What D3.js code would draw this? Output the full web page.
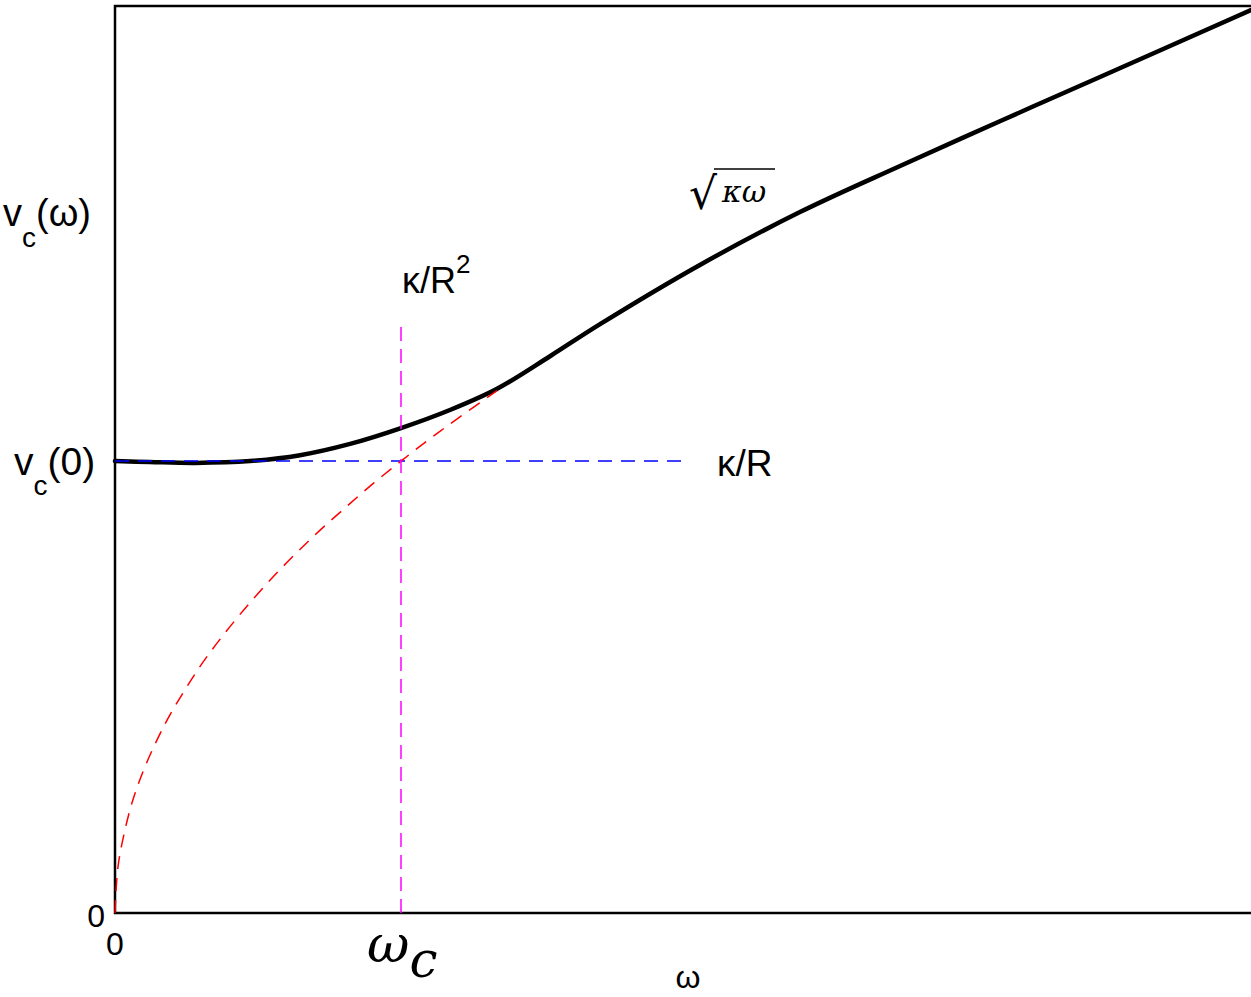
<!DOCTYPE html>
<html>
<head>
<meta charset="utf-8">
<script src="https://cdn.jsdelivr.net/npm/d3@7"></script>
<style>
  body { margin: 0; background: #fff; }
  text { font-family: "Liberation Sans", Arial, sans-serif; fill: #000; }
</style>
</head>
<body>
<script>
// omega in units of omega_c, v in units of v_c(0)

// black curve v_c(omega)
const omegaVals = [0, 0.122, 0.28, 0.472, 0.647, 0.822, 1.0, 1.171, 1.336, 1.521, 1.696, 2.045, 2.395, 2.745, 3.094, 3.444, 3.972];
const vcVals    = [1.0, 0.998, 0.996, 1.0, 1.013, 1.038, 1.073, 1.113, 1.160, 1.232, 1.303, 1.434, 1.551, 1.653, 1.752, 1.850, 1.998];

// red dashed asymptote sqrt(kappa*omega)
const asymOmega = [0, 0.01, 0.03, 0.06, 0.1, 0.15, 0.2, 0.3, 0.4, 0.5, 0.6, 0.7, 0.8, 0.9, 1.0, 1.1, 1.2, 1.336];
const asymV     = [0, 0.1, 0.17, 0.245, 0.316, 0.387, 0.447, 0.548, 0.632, 0.707, 0.775, 0.837, 0.894, 0.949, 1.0, 1.049, 1.095, 1.156];

// blue dashed kappa/R level and magenta omega_c marker
const lowLevel = 1.0;
const lowEnd = 2.0;
const omegaC = 1.0;
const markerTop = 1.30;

const width = 1251, height = 997;

const svg = d3.select('body').append('svg')
    .attr('width', width)
    .attr('height', height);

const x = d3.scaleLinear().domain([0, 4]).range([115, 1259]);
const y = d3.scaleLinear().domain([0, 2.007]).range([913, 6]);

// frame
svg.append('rect')
    .attr('x', x(0)).attr('y', y(2.007))
    .attr('width', 1300).attr('height', y(0) - y(2.007))
    .attr('fill', 'none')
    .attr('stroke', '#000')
    .attr('stroke-width', 2.5);

const line = d3.line()
    .x(d => x(d[0]))
    .y(d => y(d[1]))
    .curve(d3.curveCatmullRom);

// main curve
svg.append('path')
    .datum(d3.zip(omegaVals, vcVals))
    .attr('fill', 'none')
    .attr('stroke', '#000')
    .attr('stroke-width', 4.5)
    .attr('stroke-linecap', 'round')
    .attr('d', line);

// kappa/R level
svg.append('line')
    .attr('x1', x(0)).attr('x2', x(lowEnd))
    .attr('y1', y(lowLevel)).attr('y2', y(lowLevel))
    .attr('stroke', '#0000ff')
    .attr('stroke-width', 1.5)
    .attr('stroke-dasharray', '14,9');

// sqrt asymptote
svg.append('path')
    .datum(d3.zip(asymOmega, asymV))
    .attr('fill', 'none')
    .attr('stroke', '#ff0000')
    .attr('stroke-width', 1.5)
    .attr('stroke-dasharray', '13,9')
    .attr('d', line);

// omega_c marker
svg.append('line')
    .attr('x1', x(omegaC)).attr('x2', x(omegaC))
    .attr('y1', y(0)).attr('y2', y(markerTop))
    .attr('stroke', '#ff00ff')
    .attr('stroke-width', 1.5)
    .attr('stroke-dasharray', '14,8');

// y labels
const yl1 = svg.append('text').attr('x', 3).attr('y', 226).style('font-size', '38px');
yl1.append('tspan').text('v');
yl1.append('tspan').attr('dy', 21).style('font-size', '28px').text('c');
yl1.append('tspan').attr('dy', -21).text('(ω)');

const yl2 = svg.append('text').attr('x', 14).attr('y', 475).style('font-size', '39px');
yl2.append('tspan').text('v');
yl2.append('tspan').attr('dy', 20).style('font-size', '28px').text('c');
yl2.append('tspan').attr('dy', -20).text('(0)');

// zero ticks
svg.append('text').attr('x', 105).attr('y', 927)
    .attr('text-anchor', 'end').style('font-size', '32px').text('0');
svg.append('text').attr('x', x(0)).attr('y', 955)
    .attr('text-anchor', 'middle').style('font-size', '32px').text('0');

// x label
svg.append('text').attr('x', 688).attr('y', 988)
    .attr('text-anchor', 'middle').style('font-size', '32px').text('ω');

// omega_c label
const wc = svg.append('text').attr('x', 367).attr('y', 962)
    .style('font-family', '"DejaVu Serif", serif')
    .style('font-style', 'italic')
    .style('font-size', '52px');
wc.append('tspan').text('ω');
wc.append('tspan').attr('dy', 15).style('font-size', '50px').text('c');

// kappa/R^2
const k2 = svg.append('text').attr('x', 402).attr('y', 293).style('font-size', '36px');
k2.append('tspan').text('κ/R');
k2.append('tspan').attr('dy', -20).style('font-size', '26px').text('2');

// kappa/R
svg.append('text').attr('x', 717).attr('y', 476)
    .style('font-size', '37px').text('κ/R');

// sqrt(kappa omega)
svg.append('text').attr('x', 689).attr('y', 209)
    .style('font-family', '"DejaVu Serif", serif')
    .style('font-size', '44px').text('√');
svg.append('line')
    .attr('x1', 714).attr('x2', 775)
    .attr('y1', 169).attr('y2', 169)
    .attr('stroke', '#000').attr('stroke-width', 1.4);
svg.append('text').attr('x', 722).attr('y', 202)
    .style('font-family', '"DejaVu Serif", serif')
    .style('font-style', 'italic')
    .style('font-size', '30px').text('κω');
</script>
</body>
</html>
